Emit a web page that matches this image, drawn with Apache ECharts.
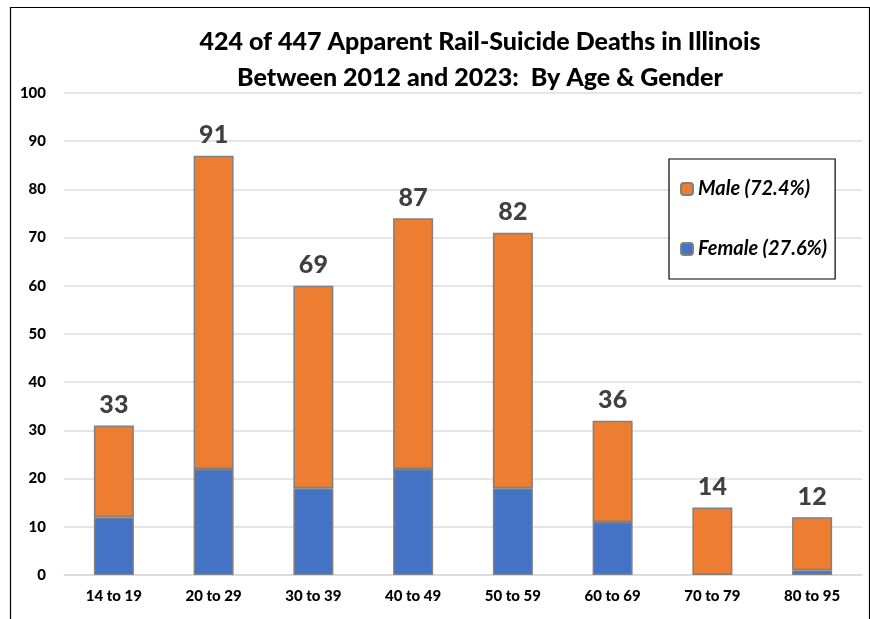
<!DOCTYPE html>
<html>
<head>
<meta charset="utf-8">
<script src="https://cdn.jsdelivr.net/npm/echarts@6/dist/echarts.min.js"></script>
<style>
html,body{margin:0;padding:0;background:#fff;}
#chart{width:870px;height:619px;}
</style>
</head>
<body>
<div id="chart"></div>
<script>
var categories = ['14 to 19','20 to 29','30 to 39','40 to 49','50 to 59','60 to 69','70 to 79','80 to 95'];
var femaleValues = [12, 22, 18, 22, 18, 11, 0, 1];
var maleValues = [19, 65, 42, 52, 53, 21, 14, 11];
var totalLabels = ['33','91','69','87','82','36','14','12'];
var seriesNames = ['Male (72.4%)', 'Female (27.6%)'];
var titleLines = ['424 of 447 Apparent Rail-Suicide Deaths in Illinois', 'Between 2012 and 2023:  By Age & Gender'];

function barData(arr) {
  return arr.map(function (v) {
    return v === 0 ? {value: v, itemStyle: {borderWidth: 0, opacity: 0}} : v;
  });
}

var chart = echarts.init(document.getElementById('chart'), null, {renderer:'canvas'});
var FONT = 'Lato';
chart.setOption({
  backgroundColor: '#fff',
  animation: false,
  title: {
    text: titleLines.join('\n'),
    left: 475, top: 19, textAlign: 'center',
    textStyle: {fontFamily: FONT, fontWeight: 900, fontSize: 25, lineHeight: 36, color: '#000'}
  },
  graphic: [{
    type: 'rect', left: 8, top: 5, z: -1,
    shape: {x: 0, y: 0, width: 859, height: 700},
    style: {fill: 'none', stroke: '#000', lineWidth: 1.2}
  }],
  legend: {
    data: seriesNames,
    orient: 'vertical',
    left: 669, top: 159,
    itemWidth: 12, itemHeight: 12, itemGap: 38,
    padding: [19, 8, 19, 11],
    borderColor: '#000', borderWidth: 1.2,
    backgroundColor: '#fff',
    textStyle: {fontFamily: FONT, fontWeight: 'bold', fontStyle: 'italic', fontSize: 20, lineHeight: 22, color: '#000'}
  },
  grid: {left: 64, right: 8, top: 93, bottom: 44, containLabel: false},
  xAxis: {
    type: 'category', data: categories,
    axisLine: {show: true, lineStyle: {color: '#d9d9d9', width: 1.5}},
    axisTick: {show: false},
    axisLabel: {fontFamily: FONT, fontWeight: 900, fontSize: 15, color: '#000', margin: 14}
  },
  yAxis: {
    type: 'value', min: 0, max: 100, interval: 10,
    axisLine: {show: false}, axisTick: {show: false},
    splitLine: {lineStyle: {color: '#dcdcdc', width: 1.5}},
    axisLabel: {fontFamily: FONT, fontWeight: 900, fontSize: 15, color: '#000', margin: 18}
  },
  series: [{
    name: seriesNames[1], type: 'bar', stack: 'g', data: barData(femaleValues), barWidth: 40,
    itemStyle: {color: '#4472C4', borderColor: '#808080', borderWidth: 1.5}
  }, {
    name: seriesNames[0], type: 'bar', stack: 'g', data: barData(maleValues), barWidth: 40,
    itemStyle: {color: '#ED7D31', borderColor: '#808080', borderWidth: 1.5},
    label: {
      show: true, position: 'top', distance: 8,
      formatter: function(p){ return totalLabels[p.dataIndex]; },
      fontFamily: FONT, fontWeight: 900, fontSize: 25, color: '#404040'
    }
  }]
});
</script>
</body>
</html>
